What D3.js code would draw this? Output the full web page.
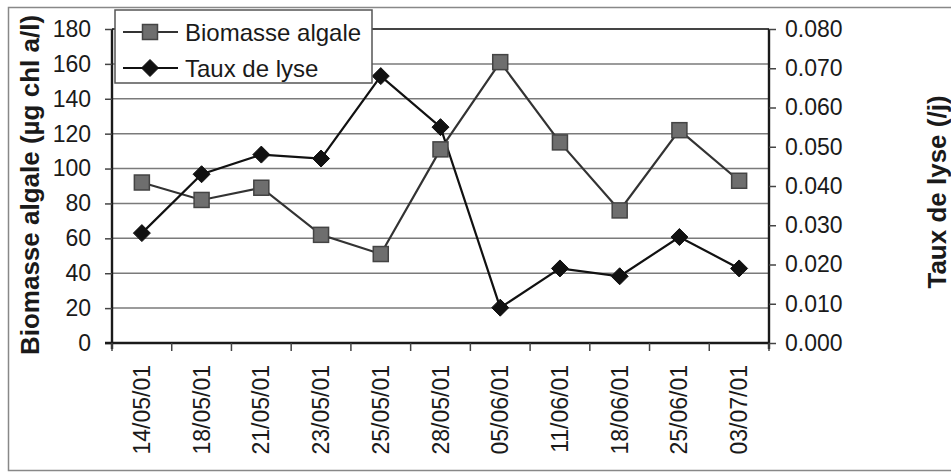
<!DOCTYPE html>
<html>
<head>
<meta charset="utf-8">
<script src="https://cdn.jsdelivr.net/npm/d3@7"></script>
<style>
  html, body { margin: 0; padding: 0; background: #fff; }
  svg { display: block; }
  text { font-family: "Liberation Sans", Arial, sans-serif; fill: #1a1a1a; }
</style>
</head>
<body>
<svg id="chart" width="951" height="475"></svg>
<script>
const categories = ["14/05/01","18/05/01","21/05/01","23/05/01","25/05/01","28/05/01","05/06/01","11/06/01","18/06/01","25/06/01","03/07/01"];
const biomasse = [92, 82, 89, 62, 51, 111, 161, 115, 76, 122, 93];
const lyse = [0.028, 0.043, 0.048, 0.047, 0.068, 0.055, 0.009, 0.019, 0.017, 0.027, 0.019];
const leftTicks = [0, 20, 40, 60, 80, 100, 120, 140, 160, 180];
const rightTicks = [0, 0.01, 0.02, 0.03, 0.04, 0.05, 0.06, 0.07, 0.08];
const seriesNames = ["Biomasse algale", "Taux de lyse"];
const leftTitle = "Biomasse algale (µg chl a/l)";
const rightTitle = "Taux de lyse (/j)";

const svg = d3.select("#chart");
const L = 112, R = 769, T = 29, B = 343;

// outer frame
svg.append("rect").attr("x", 8.5).attr("y", 7.5).attr("width", 960).attr("height", 463)
  .attr("fill", "none").attr("stroke", "#888").attr("stroke-width", 1.5);

const x = d3.scaleBand().domain(categories).range([L, R]);
const yL = d3.scaleLinear().domain([0, 180]).range([B, T]);
const yR = d3.scaleLinear().domain([0, 0.08]).range([B, T]);
const cx = d => x(d) + x.bandwidth() / 2;

// gridlines
svg.append("g").selectAll("line").data(leftTicks.filter(v => v > 0 && v < 180)).join("line")
  .attr("x1", L).attr("x2", R).attr("y1", d => yL(d)).attr("y2", d => yL(d))
  .attr("stroke", "#7a7a7a").attr("stroke-width", 1.5);
// top border of plot
svg.append("line").attr("x1", L).attr("x2", R).attr("y1", T).attr("y2", T)
  .attr("stroke", "#444").attr("stroke-width", 1.8);

// left axis
const axL = svg.append("g").attr("transform", `translate(${L},0)`)
  .call(d3.axisLeft(yL).tickValues(leftTicks).tickSize(7).tickPadding(14).tickFormat(d3.format("d")));
// right axis
const axR = svg.append("g").attr("transform", `translate(${R},0)`)
  .call(d3.axisRight(yR).tickValues(rightTicks).tickSize(7).tickPadding(9).tickFormat(d3.format(".3f")));
// bottom axis
const axB = svg.append("g").attr("transform", `translate(0,${B})`)
  .call(d3.axisBottom(x).tickSize(0).tickFormat(d => d));
[axL, axR, axB].forEach(a => {
  a.select(".domain").attr("stroke", "#1a1a1a").attr("stroke-width", 2.4);
  a.selectAll(".tick line").attr("stroke", "#444").attr("stroke-width", 1.5);
  a.selectAll("text").style("font-size", "23px").attr("fill", "#1a1a1a")
    .style("font-family", "'Liberation Sans', Arial, sans-serif");
});
axL.select(".domain").attr("d", `M0,${T}V${B + 6}`);
axR.select(".domain").attr("d", `M0,${T}V${B + 6}`);
axB.select(".domain").attr("d", `M${L - 7},0H${R}`);
axB.selectAll(".tick text")
  .attr("transform", "rotate(-90)")
  .attr("text-anchor", "end")
  .attr("x", -22).attr("y", 0).attr("dy", "0.35em");
// category boundary ticks
svg.append("g").selectAll("line").data(d3.range(categories.length + 1)).join("line")
  .attr("x1", i => L + i * x.step()).attr("x2", i => L + i * x.step())
  .attr("y1", B).attr("y2", B + 8).attr("stroke", "#444").attr("stroke-width", 1.5);

// lines
const lineB = d3.line().x((d, i) => cx(categories[i])).y(d => yL(d));
const lineT = d3.line().x((d, i) => cx(categories[i])).y(d => yR(d));
svg.append("path").attr("d", lineB(biomasse)).attr("fill", "none").attr("stroke", "#333").attr("stroke-width", 2.2);
svg.append("path").attr("d", lineT(lyse)).attr("fill", "none").attr("stroke", "#111").attr("stroke-width", 2.2);

const sq = 15, dm = 8.5;
function square(g, px, py) {
  g.append("rect").attr("x", px - sq / 2).attr("y", py - sq / 2).attr("width", sq).attr("height", sq)
    .attr("fill", "#6e6e6e").attr("stroke", "#444").attr("stroke-width", 1.5);
}
function diamond(g, px, py) {
  g.append("path").attr("d", `M${px},${py - dm}L${px + dm},${py}L${px},${py + dm}L${px - dm},${py}Z`)
    .attr("fill", "#111").attr("stroke", "#111").attr("stroke-width", 1);
}
const mk = svg.append("g");
biomasse.forEach((v, i) => square(mk, cx(categories[i]), yL(v)));
lyse.forEach((v, i) => diamond(mk, cx(categories[i]), yR(v)));

// axis titles
svg.append("text").attr("transform", `translate(39,${(15 + 355) / 2}) rotate(-90)`)
  .attr("text-anchor", "middle").style("font-size", "26px").style("font-weight", "bold").attr("fill", "#111")
  .text(leftTitle);
svg.append("text").attr("transform", `translate(946,192) rotate(-90)`)
  .attr("text-anchor", "middle").style("font-size", "26px").style("font-weight", "bold").attr("fill", "#111")
  .text(rightTitle);

// legend
const lg = svg.append("g");
lg.append("rect").attr("x", 115).attr("y", 10).attr("width", 257).attr("height", 73)
  .attr("fill", "#fff").attr("stroke", "#555").attr("stroke-width", 1.5);
[0, 1].forEach(i => {
  const yy = 32 + i * 36;
  lg.append("line").attr("x1", 123).attr("x2", 178).attr("y1", yy).attr("y2", yy)
    .attr("stroke", i === 0 ? "#333" : "#111").attr("stroke-width", 2.2);
  if (i === 0) square(lg, 150, yy); else diamond(lg, 150, yy);
  lg.append("text").attr("x", 185).attr("y", yy).attr("dy", "0.36em")
    .style("font-size", "24px").attr("fill", "#1a1a1a").text(seriesNames[i]);
});
</script>
</body>
</html>
